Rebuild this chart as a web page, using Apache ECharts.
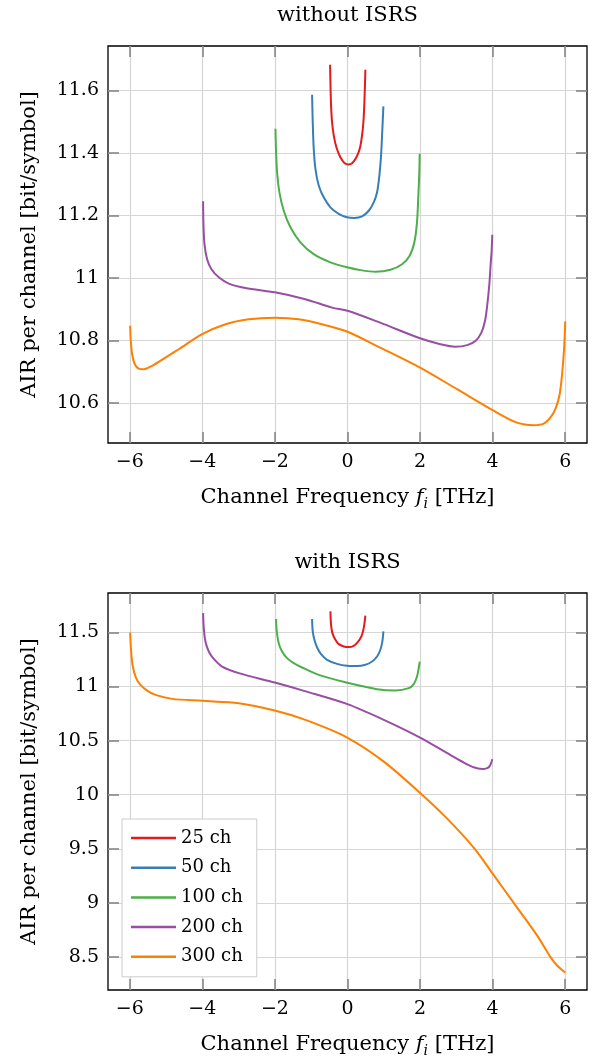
<!DOCTYPE html>
<html><head><meta charset="utf-8">
<script src="https://cdn.jsdelivr.net/npm/echarts@6.0.0/dist/echarts.min.js"></script>
<style>html,body{margin:0;padding:0;background:#fff}#c{width:602px;height:1061px}</style>
</head><body><div id="c"></div>
<script>
// ---- tick labels / categories ----
const xTicks = [-6, -4, -2, 0, 2, 4, 6];
const yTicksTop = [10.6, 10.8, 11, 11.2, 11.4, 11.6];
const yTicksBottom = [8.5, 9, 9.5, 10, 10.5, 11, 11.5];
const seriesNames = ['25 ch', '50 ch', '100 ch', '200 ch', '300 ch'];
const seriesColors = ['#e41a1c', '#377eb8', '#4daf4a', '#984ea3', '#ff7f00'];

// ---- without ISRS ----
const noIsrs25F   = [-0.48, -0.471, -0.453, -0.425, -0.379, -0.306, -0.196, -0.085, 0.025, 0.135, 0.245, 0.337, 0.401, 0.438, 0.466, 0.493];
const noIsrs25AIR = [11.682, 11.627, 11.552, 11.498, 11.456, 11.418, 11.386, 11.368, 11.363, 11.368, 11.386, 11.413, 11.456, 11.498, 11.563, 11.666];
const noIsrs50F   = [-0.976, -0.958, -0.93, -0.884, -0.793, -0.655, -0.471, -0.242, -0.012, 0.19, 0.401, 0.585, 0.723, 0.815, 0.879, 0.925, 0.961, 0.989];
const noIsrs50AIR = [11.586, 11.498, 11.413, 11.349, 11.296, 11.258, 11.226, 11.205, 11.194, 11.192, 11.197, 11.215, 11.242, 11.274, 11.328, 11.392, 11.477, 11.549];
const noIsrs100F   = [-1.986, -1.968, -1.94, -1.876, -1.757, -1.573, -1.298, -0.93, -0.471, -0.012, 0.355, 0.769, 1.182, 1.504, 1.713, 1.842, 1.915, 1.952, 1.979, 1.989];
const noIsrs100AIR = [11.477, 11.402, 11.338, 11.274, 11.215, 11.162, 11.114, 11.076, 11.05, 11.034, 11.025, 11.02, 11.026, 11.044, 11.071, 11.114, 11.178, 11.263, 11.338, 11.397];
const noIsrs200F   = [-3.979, -3.97, -3.942, -3.869, -3.749, -3.547, -3.272, -2.813, -2.0, -1.16, -0.42, 0.0, 0.9, 2.0, 2.56, 2.97, 3.3, 3.533, 3.689, 3.79, 3.854, 3.909, 3.945, 3.972, 3.99];
const noIsrs200AIR = [11.245, 11.173, 11.109, 11.06, 11.028, 11.002, 10.982, 10.968, 10.954, 10.932, 10.905, 10.895, 10.857, 10.807, 10.788, 10.78, 10.785, 10.799, 10.825, 10.863, 10.916, 10.98, 11.044, 11.087, 11.138];
const noIsrs300F   = [-5.99, -5.972, -5.935, -5.862, -5.752, -5.614, -5.385, -5.019, -4.649, -4.006, -3.364, -2.721, -2.005, -1.343, -0.7, 0.0, 0.9, 2.0, 3.02, 4.0, 4.67, 5.13, 5.406, 5.59, 5.727, 5.847, 5.93, 5.975, 6.0];
const noIsrs300AIR = [10.847, 10.799, 10.756, 10.724, 10.71, 10.708, 10.719, 10.745, 10.772, 10.82, 10.852, 10.868, 10.873, 10.868, 10.852, 10.828, 10.777, 10.713, 10.644, 10.577, 10.537, 10.529, 10.534, 10.553, 10.58, 10.628, 10.713, 10.788, 10.861];

// ---- with ISRS ----
const isrs25F   = [-0.471, -0.453, -0.416, -0.333, -0.242, -0.104, 0.034, 0.172, 0.282, 0.383, 0.447, 0.493];
const isrs25AIR = [11.695, 11.571, 11.494, 11.432, 11.392, 11.371, 11.365, 11.377, 11.411, 11.463, 11.54, 11.655];
const isrs50F   = [-0.976, -0.958, -0.912, -0.838, -0.728, -0.563, -0.287, -0.012, 0.264, 0.493, 0.677, 0.815, 0.906, 0.961, 0.989];
const isrs50AIR = [11.624, 11.51, 11.432, 11.361, 11.3, 11.247, 11.21, 11.192, 11.189, 11.201, 11.232, 11.278, 11.34, 11.417, 11.51];
const isrs100F   = [-1.968, -1.95, -1.895, -1.803, -1.665, -1.481, -1.252, -0.793, -0.058, 0.81, 1.32, 1.69, 1.824, 1.916, 1.97, 1.99];
const isrs100AIR = [11.624, 11.51, 11.401, 11.324, 11.263, 11.216, 11.176, 11.108, 11.04, 10.976, 10.963, 10.985, 11.022, 11.093, 11.185, 11.231];
const isrs200F   = [-3.979, -3.961, -3.915, -3.823, -3.685, -3.455, -2.996, -2.005, -1.2, 0.0, 1.0, 2.0, 2.83, 3.294, 3.569, 3.75, 3.863, 3.937, 3.99];
const isrs200AIR = [11.679, 11.54, 11.417, 11.324, 11.256, 11.185, 11.124, 11.037, 10.96, 10.837, 10.692, 10.528, 10.368, 10.281, 10.244, 10.238, 10.247, 10.275, 10.328];
const isrs300F   = [-5.99, -5.962, -5.917, -5.825, -5.705, -5.522, -5.292, -4.833, -4.006, -2.996, -2.005, -1.16, -0.058, 1.0, 2.054, 2.74, 3.505, 4.0, 4.58, 5.22, 5.59, 5.77, 6.0];
const isrs300AIR = [11.5, 11.324, 11.185, 11.078, 11.016, 10.963, 10.923, 10.886, 10.868, 10.846, 10.778, 10.692, 10.537, 10.306, 10.0, 9.781, 9.5, 9.27, 9.0, 8.701, 8.5, 8.423, 8.355];

const FONT = 'DejaVu Serif';
const zip = (f, a) => f.map((v, i) => [v, a[i]]);
const minus = v => String(v).replace('-', '\u2212');

const topSets = [[noIsrs25F, noIsrs25AIR], [noIsrs50F, noIsrs50AIR], [noIsrs100F, noIsrs100AIR], [noIsrs200F, noIsrs200AIR], [noIsrs300F, noIsrs300AIR]];
const botSets = [[isrs25F, isrs25AIR], [isrs50F, isrs50AIR], [isrs100F, isrs100AIR], [isrs200F, isrs200AIR], [isrs300F, isrs300AIR]];

const gridStyle = { show: true, borderColor: '#000', borderWidth: 1.3, backgroundColor: 'transparent' };
const tickStyle = { show: true, inside: true, length: 11, lineStyle: { color: '#808080', width: 1.5 } };
const splitStyle = { show: true, lineStyle: { color: '#d6d6d6', width: 1.2 } };
const labelStyle = { fontFamily: FONT, fontSize: 19, color: '#000', margin: 9 };
const nameStyle = { fontFamily: FONT, fontSize: 21, color: '#000' };
const noLine = { show: false, onZero: false };

function xMain(gridIndex) {
  return {
    type: 'value', gridIndex, min: -6.6, max: 6.6, position: 'bottom',
    axisLine: noLine,
    axisTick: Object.assign({ customValues: xTicks }, tickStyle),
    axisLabel: Object.assign({ customValues: xTicks, formatter: minus }, labelStyle, { margin: 10 }),
    splitLine: splitStyle,
    name: 'Channel Frequency {it|f}{sub|i} [THz]',
    nameLocation: 'middle', nameGap: 42,
    nameTextStyle: Object.assign({ lineHeight: 26, rich: {
      it: { fontFamily: FONT, fontSize: 21, fontStyle: 'italic', color: '#000', lineHeight: 26 },
      sub: { fontFamily: FONT, fontSize: 14, fontStyle: 'italic', color: '#000', verticalAlign: 'bottom', lineHeight: 14 }
    } }, nameStyle)
  };
}
function xTop(gridIndex) {
  return {
    type: 'value', gridIndex, min: -6.6, max: 6.6, position: 'top',
    axisLine: noLine, axisLabel: { show: false }, splitLine: { show: false },
    axisTick: Object.assign({ customValues: xTicks }, tickStyle)
  };
}
function yMain(gridIndex, min, max, ticks) {
  return {
    type: 'value', gridIndex, min, max, position: 'left',
    axisLine: noLine,
    axisTick: Object.assign({ customValues: ticks }, tickStyle),
    axisLabel: Object.assign({ customValues: ticks, formatter: minus }, labelStyle),
    splitLine: splitStyle,
    name: 'AIR per channel [bit/symbol]', nameLocation: 'middle', nameGap: 68, nameRotate: 90,
    nameTextStyle: nameStyle
  };
}
function yRight(gridIndex, min, max, ticks) {
  return {
    type: 'value', gridIndex, min, max, position: 'right',
    axisLine: noLine, axisLabel: { show: false }, splitLine: { show: false },
    axisTick: Object.assign({ customValues: ticks }, tickStyle)
  };
}

const series = [];
topSets.forEach((s, i) => series.push({
  name: seriesNames[i], type: 'line', xAxisIndex: 0, yAxisIndex: 0, data: zip(s[0], s[1]),
  showSymbol: false, symbol: 'none', smooth: 0.3, color: seriesColors[i],
  lineStyle: { width: 2, color: seriesColors[i] }, z: 3
}));
botSets.forEach((s, i) => series.push({
  name: seriesNames[i], type: 'line', xAxisIndex: 2, yAxisIndex: 2, data: zip(s[0], s[1]),
  showSymbol: false, symbol: 'none', smooth: 0.3, color: seriesColors[i],
  lineStyle: { width: 2, color: seriesColors[i] }, z: 3
}));

const chart = echarts.init(document.getElementById('c'), null, { renderer: 'canvas' });
chart.setOption({
  animation: false,
  backgroundColor: '#fff',
  title: [
    { text: 'without ISRS', left: 347.5, top: 5, textAlign: 'center', padding: 0,
      textStyle: { fontFamily: FONT, fontSize: 21, fontWeight: 'normal', color: '#000' } },
    { text: 'with ISRS', left: 347.5, top: 552, textAlign: 'center', padding: 0,
      textStyle: { fontFamily: FONT, fontSize: 21, fontWeight: 'normal', color: '#000' } }
  ],
  grid: [
    Object.assign({ left: 108, top: 46, width: 479, height: 397, outerBoundsMode: 'none' }, gridStyle),
    Object.assign({ left: 108, top: 593, width: 479, height: 397, outerBoundsMode: 'none' }, gridStyle)
  ],
  xAxis: [xMain(0), xTop(0), xMain(1), xTop(1)],
  yAxis: [
    yMain(0, 10.472, 11.742, yTicksTop), yRight(0, 10.472, 11.742, yTicksTop),
    yMain(1, 8.194, 11.865, yTicksBottom), yRight(1, 8.194, 11.865, yTicksBottom)
  ],
  legend: {
    data: seriesNames, orient: 'vertical', left: 122, top: 819,
    padding: [10, 14, 11, 9], itemWidth: 45, itemHeight: 2.5, itemGap: 11.7, icon: 'rect',
    backgroundColor: '#fff', borderColor: '#cccccc', borderWidth: 1, borderRadius: 0,
    textStyle: { fontFamily: FONT, fontSize: 18, color: '#000', lineHeight: 18 }
  },
  series
});
</script>
</body></html>
